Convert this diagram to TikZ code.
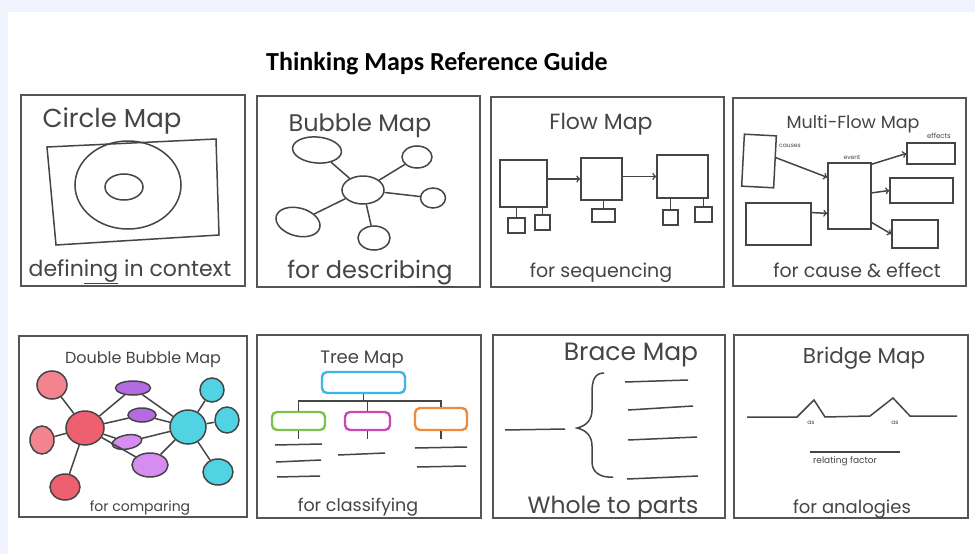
\documentclass[tikz,border=0pt]{standalone}
\usepackage{fontspec}
\setmainfont{Poppins}
\newfontfamily\titlefont{Carlito}
\usetikzlibrary{shapes.geometric}

\definecolor{band}{HTML}{F0F2FD}
\definecolor{frameink}{HTML}{555555}
\definecolor{inkgray}{HTML}{454545}
\definecolor{redA}{HTML}{EE5F70}
\definecolor{redB}{HTML}{F2838F}
\definecolor{purA}{HTML}{B46AE0}
\definecolor{purB}{HTML}{D68CF0}
\definecolor{cyanA}{HTML}{52D3E3}
\definecolor{treeblue}{HTML}{3DB5E8}
\definecolor{treegreen}{HTML}{7DC24B}
\definecolor{treepink}{HTML}{C84AB4}
\definecolor{treeorange}{HTML}{F08A3A}

\tikzset{
  mapframe/.style={draw=frameink, line width=1.8pt},
  ink/.style={draw=inkgray, line width=1.5pt},
  maplabel/.style={text=inkgray, anchor=base, inner sep=0pt, font=\fontsize{#1}{#1}\selectfont},
  wh/.style 2 args={minimum width=#1pt, minimum height=#2pt},
  bubble/.style={ellipse, draw=inkgray, line width=1.5pt, inner sep=0pt},
  box/.style={rectangle, draw=inkgray, line width=1.5pt, inner sep=0pt},
  branch/.style={rectangle, rounded corners=5pt, line width=2.4pt, inner sep=0pt},
}

\begin{document}
\begin{tikzpicture}[x=1pt,y=-1pt]
  \fill[band] (0,0) rectangle (975,554);
  \fill[white] (8,12) rectangle (975,554);
  \useasboundingbox (0,0) rectangle (975,554);

  \node[anchor=base, inner sep=0pt, font=\titlefont\bfseries\fontsize{26}{26}\selectfont] (guide) at (437,70) {Thinking Maps Reference Guide};

  % frames
  \draw[mapframe] (21,95) rectangle (245,286);
  \draw[mapframe] (257,96) rectangle (480,287);
  \draw[mapframe] (491,97) rectangle (724,287);
  \draw[mapframe] (733,98) rectangle (966,286);
  \draw[mapframe] (19,336) rectangle (247,517);
  \draw[mapframe] (257,335) rectangle (481,518);
  \draw[mapframe] (493,335) rectangle (725,518);
  \draw[mapframe] (734,335) rectangle (968,518);

  % circle map
  \node[maplabel=26] (circname) at (112,127) {Circle Map};
  \draw[ink] (47,147) -- (216,139) -- (219,235) -- (56,245) -- cycle;
  \node[bubble, wh={106}{88}] (outer) at (128,185) {};
  \node[bubble, wh={38}{26}] (inner) at (124,187) {};
  \node[maplabel=22] (circtag) at (130,276) {defin\underline{ing} in context};

  % bubble map
  \node[maplabel=24] (bubname) at (360,131) {Bubble Map};
  \node[bubble, wh={42}{28}] (bcenter) at (363,190) {};
  \node[bubble, wh={49}{26}, rotate=-5] (b1) at (317,150) {};
  \node[bubble, wh={30}{22}] (b2) at (417,157) {};
  \node[bubble, wh={25}{20}] (b3) at (433,198) {};
  \node[bubble, wh={45}{28}, rotate=-15] (b4) at (298,222) {};
  \node[bubble, wh={32}{24}] (b5) at (374,238) {};
  \foreach \b in {b1,b2,b3,b4,b5}
    \draw[ink] (bcenter) -- (\b);
  \node[maplabel=24] (bubtag) at (370,278) {for describ\underline{ing}};

  % flow map
  \node[maplabel=22] (flowname) at (601,129) {Flow Map};
  \node[box, wh={47}{47}] (step1) at (523.5,183.5) {};
  \node[box, wh={41}{42}] (step2) at (601.5,179) {};
  \node[box, wh={51}{43}] (step3) at (682.5,176.5) {};
  \draw[ink, ->] (step1.east |- step2) -- (step2);
  \draw[ink, ->] (step2.east |- step3) -- (step3);
  \node[box, wh={17}{15}] (sub1a) at (516.5,225.5) {};
  \node[box, wh={15}{15}] (sub1b) at (542.5,222.5) {};
  \node[box, wh={23}{13}] (sub2a) at (603.5,215.5) {};
  \node[box, wh={15}{15}] (sub3a) at (670.5,217.5) {};
  \node[box, wh={17}{15}] (sub3b) at (703.5,214.5) {};
  \draw[ink] (sub1a.north) -- (sub1a.north |- step1.south);
  \draw[ink] (sub1b.north) -- (sub1b.north |- step1.south);
  \draw[ink] (sub2a.north) -- (sub2a.north |- step2.south);
  \draw[ink] (sub3a.north) -- (sub3a.north |- step3.south);
  \draw[ink] (sub3b.north) -- (sub3b.north |- step3.south);
  \node[maplabel=19] (flowtag) at (601,277) {for sequencing};

  % multi-flow map
  \node[maplabel=17.5] (multiname) at (853,128) {Multi-Flow Map};
  \node[box, wh={32}{52}, rotate=-3] (cause1) at (759,161) {};
  \node[box, wh={65}{42}] (cause2) at (778.5,224) {};
  \node[box, wh={43}{66}] (event) at (849.5,196) {};
  \node[box, wh={48}{21}] (eff1) at (931,153.5) {};
  \node[box, wh={63}{25}] (eff2) at (921.5,190.5) {};
  \node[box, wh={46}{28}] (eff3) at (915,234) {};
  \draw[ink, ->] (cause1.14) -- (event.140);
  \draw[ink, ->] (cause2.19) -- (event.218);
  \draw[ink, ->] (event.55) -- (eff1.west);
  \draw[ink, ->] (event.8) -- (eff2.west);
  \draw[ink, ->] (event.-50) -- (eff3.west);
  \node[maplabel=6] (causes) at (790,147) {causes};
  \node[maplabel=6] (evlabel) at (852,159) {event};
  \node[maplabel=7] (effects) at (939,138) {effects};
  \node[maplabel=19] (multitag) at (857,277) {for cause \& effect};

  % double bubble map
  \node[maplabel=16] (dblname) at (143,363) {Double Bubble Map};
  \node[bubble, fill=redA, wh={38}{34}] (left) at (85,428) {};
  \node[bubble, fill=redB, wh={30}{28}] (l1) at (52,385) {};
  \node[bubble, fill=redB, wh={24}{28}] (l2) at (42,440) {};
  \node[bubble, fill=redA, wh={30}{26}] (l3) at (65,487) {};
  \node[bubble, fill=cyanA, wh={36}{34}] (right) at (188,427) {};
  \node[bubble, fill=cyanA, wh={24}{24}] (r1) at (212,390) {};
  \node[bubble, fill=cyanA, wh={24}{26}] (r2) at (227,420) {};
  \node[bubble, fill=cyanA, wh={30}{26}] (r3) at (218,472) {};
  \node[bubble, fill=purA, wh={35}{14}] (p1) at (133,388) {};
  \node[bubble, fill=purA, wh={28}{14}] (p2) at (142,415) {};
  \node[bubble, fill=purB, wh={30}{14}, rotate=10] (p3) at (127,442) {};
  \node[bubble, fill=purB, wh={36}{24}] (p4) at (150,465) {};
  \foreach \b in {l1,l2,l3,p1,p2,p3,p4}
    \draw[ink] (left) -- (\b);
  \foreach \b in {r1,r2,r3,p1,p2,p3,p4}
    \draw[ink] (right) -- (\b);
  \node[maplabel=14] (dbltag) at (140,511) {for comparing};

  % tree map
  \node[maplabel=18] (treename) at (362,363) {Tree Map};
  \node[branch, draw=treeblue, wh={83}{21}] (trunk) at (363.5,382.5) {};
  \node[branch, draw=treegreen, wh={53}{18}] (kind1) at (298.5,421) {};
  \node[branch, draw=treepink, wh={45}{18}] (kind2) at (367.5,421) {};
  \node[branch, draw=treeorange, wh={52}{22}] (kind3) at (441,419) {};
  \coordinate (bar) at (363,401);
  \draw[ink] (trunk.south) -- (trunk.south |- bar);
  \draw[ink] (kind1.north) |- (bar) -| (kind3.north);
  \draw[ink] (kind2.north) -- (kind2.north |- bar);
  \draw[ink] (kind1.south) -- ++(0,8);
  \draw[ink] (kind2.south) -- ++(0,8);
  \draw[ink] (kind3.south) -- ++(0,8);
  \draw[ink] (275,445) -- (322,444);
  \draw[ink] (276,462) -- (321,460);
  \draw[ink] (277,477) -- (320,476);
  \draw[ink] (338,455) -- (385,453);
  \draw[ink] (415,448) -- (467,447);
  \draw[ink] (417,467) -- (466,466);
  \node[maplabel=17.5] (treetag) at (358,511) {for classifying};

  % brace map
  \node[maplabel=25] (bracename) at (631,360) {Brace Map};
  \draw[ink] (505,430) -- (565,429);
  \draw[ink] (604,373) .. controls (595,373) and (592,380) .. (592,392) -- (592,410)
    .. controls (592,420) and (586,426) .. (577,428)
    .. controls (586,430) and (592,436) .. (592,446) -- (592,462)
    .. controls (592,472) and (600,478) .. (613,477);
  \draw[ink] (625,382) -- (688,380);
  \draw[ink] (628,410) -- (693,406);
  \draw[ink] (628,440) -- (697,437);
  \draw[ink] (627,479) -- (698,476);
  \node[maplabel=23.5] (bracetag) at (613,513) {Whole to parts};

  % bridge map
  \node[maplabel=21.5] (bridgename) at (864,363) {Bridge Map};
  \draw[ink] (747,417) -- (797,417) -- (814,400) -- (825,417) -- (870,416)
    -- (893,398) -- (910,416) -- (957,416);
  \node[maplabel=6] (as1) at (811,424) {as};
  \node[maplabel=6] (as2) at (895,424) {as};
  \node[maplabel=9] (relating) at (845,463) {relating factor};
  \draw[ink] (relating.north west) ++(-3,-4) -- ++(90,0);
  \node[maplabel=18] (bridgetag) at (852,513) {for analogies};
\end{tikzpicture}
\end{document}
